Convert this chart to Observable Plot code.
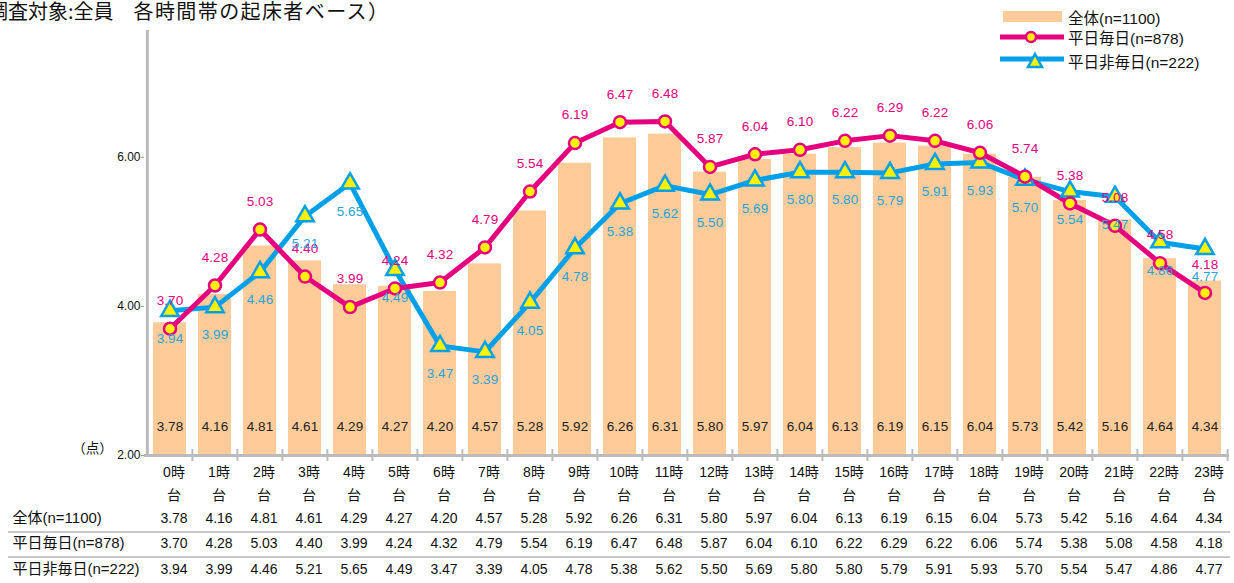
<!DOCTYPE html>
<html>
<head>
<meta charset="utf-8">
<script src="https://cdn.jsdelivr.net/npm/d3@7"></script>
<script src="https://cdn.jsdelivr.net/npm/@observablehq/plot@0.6"></script>
<style>
  html, body { margin: 0; padding: 0; background: #fff; }
  body { font-family: "Liberation Sans", "Noto Sans CJK JP", sans-serif; }
  #wrap { position: relative; width: 1234px; height: 583px; overflow: hidden; }
  #title { position: absolute; left: -32px; top: -1px; font-size: 20px; line-height: 24px; white-space: nowrap; color: #111; font-family: "Noto Sans CJK JP", sans-serif; }
  #title .wide { letter-spacing: 1.4px; }
  .leg { position: absolute; left: 996px; height: 20px; display: flex; align-items: center; font-size: 15.5px; color: #111; white-space: nowrap; }
  .leg svg { margin-right: 2px; }
  .sep { position: absolute; left: 8px; width: 1222px; height: 2px; background: #c8c8c8; }
</style>
</head>
<body>
<div id="wrap">
  <div id="chart"></div>
  <div id="title">（調査対象:全員　<span class="wide">各時間帯の起床者ベース）</span></div>
  <div class="leg" style="top:7px"><svg width="70" height="20"><rect x="7" y="4" width="59" height="11" fill="#FFCC99"/></svg><span>全体(n=1100)</span></div>
  <div class="leg" style="top:27px"><svg width="70" height="20"><line x1="4" x2="68" y1="10" y2="10" stroke="#E4007F" stroke-width="5"/><circle cx="35" cy="10" r="5" fill="#FFF100" stroke="#E4007F" stroke-width="2.5"/></svg><span>平日毎日(n=878)</span></div>
  <div class="leg" style="top:51px"><svg width="70" height="24"><line x1="4" x2="68" y1="10" y2="10" stroke="#00A0E9" stroke-width="5"/><path d="M39,5 L46,18 L32,18 Z" fill="#FFF100" stroke="#00A0E9" stroke-width="2.5"/></svg><span>平日非毎日(n=222)</span></div>
  <div class="sep" style="top:531px"></div>
  <div class="sep" style="top:556px"></div>
</div>
<script>
const hours = ["0時","1時","2時","3時","4時","5時","6時","7時","8時","9時","10時","11時","12時","13時","14時","15時","16時","17時","18時","19時","20時","21時","22時","23時"];
const allValues = [3.78,4.16,4.81,4.61,4.29,4.27,4.20,4.57,5.28,5.92,6.26,6.31,5.80,5.97,6.04,6.13,6.19,6.15,6.04,5.73,5.42,5.16,4.64,4.34];
const dailyValues = [3.70,4.28,5.03,4.40,3.99,4.24,4.32,4.79,5.54,6.19,6.47,6.48,5.87,6.04,6.10,6.22,6.29,6.22,6.06,5.74,5.38,5.08,4.58,4.18];
const nonDailyValues = [3.94,3.99,4.46,5.21,5.65,4.49,3.47,3.39,4.05,4.78,5.38,5.62,5.50,5.69,5.80,5.80,5.79,5.91,5.93,5.70,5.54,5.47,4.86,4.77];
const seriesLabels = ["全体(n=1100)", "平日毎日(n=878)", "平日非毎日(n=222)"];
const yTicks = [2, 4, 6];
const yDomain = [2, 7.7];
const unitLabel = "（点）";
const hourSuffix = "台";

const rows = hours.map((h, i) => ({hour: h, all: allValues[i], daily: dailyValues[i], nonDaily: nonDailyValues[i]}));
const fmt = d3.format(".2f");

const W = 1234, H = 583, mL = 144, mR = 5, mT = 30, mB = 128;
const bw = (W - mL - mR) / hours.length;
const pink = "#E4007F", cyan = "#00A0E9", yellow = "#FFF100", bar = "#FFCC99", axisGray = "#BBBBBB";
const numFont = "Liberation Sans, Noto Sans CJK JP, sans-serif";
const tableRows = [
  {label: seriesLabels[0], key: "all", dy: 67},
  {label: seriesLabels[1], key: "daily", dy: 92},
  {label: seriesLabels[2], key: "nonDaily", dy: 118}
];

const marks = [
  Plot.barY(rows, {x: "hour", y1: yDomain[0], y2: "all", fill: bar}),
  Plot.ruleY([yDomain[0]], {stroke: axisGray, strokeWidth: 3}),
  Plot.ruleX([hours[0]], {dx: -bw / 2, y1: yDomain[0], y2: yDomain[1], stroke: axisGray, strokeWidth: 3}),
  Plot.ruleX(hours.slice(1), {dx: -bw / 2, y1: 1.92, y2: 2.08, stroke: axisGray, strokeWidth: 2}),
  Plot.ruleX([hours[hours.length - 1]], {dx: bw / 2, y1: 1.92, y2: 2.08, stroke: axisGray, strokeWidth: 2}),
  Plot.axisY({ticks: yTicks, tickFormat: fmt, tickSize: 3, tickPadding: 1, stroke: "#999", fontSize: 12, fill: "#111", fontFamily: numFont}),
  Plot.text([unitLabel], {frameAnchor: "bottom-left", textAnchor: "middle", dx: -52, dy: -3, text: d => d, fontSize: 13.5, fill: "#111", fontFamily: "Noto Sans CJK JP"}),
  Plot.text(rows, {x: "hour", frameAnchor: "bottom", dy: -25, text: d => fmt(d.all), fontSize: 13.5, fill: "#222", fontFamily: numFont}),
  Plot.line(rows, {x: "hour", y: "nonDaily", stroke: cyan, strokeWidth: 5}),
  Plot.line(rows, {x: "hour", y: "daily", stroke: pink, strokeWidth: 5}),
  Plot.dot(rows, {x: "hour", y: "nonDaily", symbol: "triangle", r: 6.5, fill: yellow, stroke: cyan, strokeWidth: 2.5}),
  Plot.dot(rows, {x: "hour", y: "daily", r: 6, fill: yellow, stroke: pink, strokeWidth: 2.5}),
  Plot.text(rows, {x: "hour", y: "daily", dy: -28, text: d => fmt(d.daily), fill: pink, fontSize: 13.5, fontFamily: numFont}),
  Plot.text(rows, {x: "hour", y: "nonDaily", dy: 28, text: d => fmt(d.nonDaily), fill: "#29A3DC", fontSize: 13.5, fontFamily: numFont}),
  Plot.text(rows, {x: "hour", frameAnchor: "bottom", dx: 4, dy: 6, lineAnchor: "top", lineHeight: 1.6, text: d => d.hour + "\n" + hourSuffix, fontSize: 14, fill: "#111", fontFamily: numFont})
];
for (const t of tableRows) {
  marks.push(Plot.text(rows, {x: "hour", frameAnchor: "bottom", dx: 4, dy: t.dy, text: d => fmt(d[t.key]), fontSize: 14, fill: "#111", fontFamily: numFont}));
  marks.push(Plot.text([t.label], {frameAnchor: "bottom-left", dx: -(mL - 12), dy: t.dy, textAnchor: "start", text: d => d, fontSize: 15, fill: "#111", fontFamily: numFont}));
}

const chart = Plot.plot({
  width: W, height: H,
  marginLeft: mL, marginRight: mR, marginTop: mT, marginBottom: mB,
  style: {fontFamily: numFont, background: "transparent", overflow: "visible"},
  x: {domain: hours, paddingInner: 0.27, paddingOuter: 0.135, axis: null},
  y: {domain: yDomain, axis: null},
  marks
});
document.getElementById("chart").appendChild(chart);
</script>
</body>
</html>
